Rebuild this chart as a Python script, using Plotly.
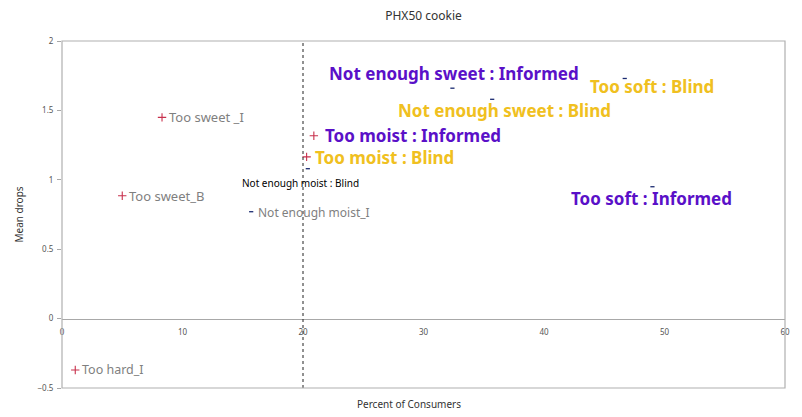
import plotly.graph_objects as go

# ---- data ----
labels = ["Too hard_I", "Too sweet _I", "Too sweet_B", "Not enough moist_I",
          "Not enough moist : Blind", "Too moist : Blind", "Too moist : Informed",
          "Not enough sweet : Informed", "Not enough sweet : Blind",
          "Too soft : Blind", "Too soft : Informed"]
pct_consumers = [1.1, 8.3, 5.0, 15.7, 20.4, 20.3, 20.9, 32.4, 35.7, 46.7, 49.0]
mean_drops = [-0.37, 1.45, 0.885, 0.77, 1.08, 1.165, 1.317, 1.66, 1.58, 1.73, 0.95]
marker_kind = ["plus", "plus", "plus", "dash", "dash", "plus", "plus",
               "dash", "dash", "dash", "dash"]
threshold_pct = 20
x_ticks = [0, 10, 20, 30, 40, 50, 60]
y_ticks = [-0.5, 0, 0.5, 1, 1.5, 2]

# ---- styles ----
PURPLE = "#5a10c8"
GOLD = "#f0c020"
GRAY = "#7f7f7f"
label_style = {
    "Too hard_I": dict(color=GRAY, size=12.5, bold=False, xa="left", xs=5, ys=0),
    "Too sweet _I": dict(color=GRAY, size=13, bold=False, xa="left", xs=5, ys=0),
    "Too sweet_B": dict(color=GRAY, size=13, bold=False, xa="left", xs=5, ys=0),
    "Not enough moist_I": dict(color=GRAY, size=12, bold=False, xa="left", xs=5, ys=-1),
    "Not enough moist : Blind": dict(color="#000000", size=10, bold=False, xa="center", xs=-7, ys=-14),
    "Too moist : Blind": dict(color=GOLD, size=17, bold=True, xa="left", xs=6, ys=-1),
    "Too moist : Informed": dict(color=PURPLE, size=17, bold=True, xa="left", xs=9, ys=0),
    "Not enough sweet : Informed": dict(color=PURPLE, size=17, bold=True, xa="center", xs=2, ys=15),
    "Not enough sweet : Blind": dict(color=GOLD, size=17, bold=True, xa="center", xs=12, ys=-11),
    "Too soft : Blind": dict(color=GOLD, size=17, bold=True, xa="center", xs=27, ys=-8),
    "Too soft : Informed": dict(color=PURPLE, size=17, bold=True, xa="center", xs=-1, ys=-12),
}

FONT = "Noto Sans"
fig = go.Figure()

px = [x for x, k in zip(pct_consumers, marker_kind) if k == "plus"]
py = [y for y, k in zip(mean_drops, marker_kind) if k == "plus"]
dx = [x for x, k in zip(pct_consumers, marker_kind) if k == "dash"]
dy = [y for y, k in zip(mean_drops, marker_kind) if k == "dash"]

fig.add_trace(go.Scatter(x=px, y=py, mode="markers", hoverinfo="skip",
                         marker=dict(symbol="cross-thin", size=6,
                                     line=dict(color="#c8304c", width=1.1))))
fig.add_trace(go.Scatter(x=dx, y=dy, mode="markers", hoverinfo="skip",
                         marker=dict(symbol="line-ew", size=3,
                                     line=dict(color="#1a2a70", width=1.3))))

for lab, x, y in zip(labels, pct_consumers, mean_drops):
    s = label_style[lab]
    txt = f"<b>{lab}</b>" if s["bold"] else lab
    fig.add_annotation(x=x, y=y, xref="x", yref="y", text=txt, showarrow=False,
                       xanchor=s["xa"], yanchor="middle", xshift=s["xs"], yshift=s["ys"],
                       font=dict(family=FONT, size=s["size"], color=s["color"]))

# dotted threshold line
fig.add_shape(type="line", xref="x", yref="paper", x0=threshold_pct, x1=threshold_pct,
              y0=0, y1=1, line=dict(color="#222222", width=1, dash="dot"))
# plot border
fig.add_shape(type="rect", xref="paper", yref="paper", x0=0, x1=1, y0=0, y1=1,
              line=dict(color="#b0b0b0", width=1.2))

fig.add_annotation(text="Percent of Consumers", xref="paper", yref="paper",
                   x=0.48, y=0, yshift=-16, showarrow=False, yanchor="middle",
                   font=dict(family=FONT, size=10, color="#333333"))

fig.update_layout(
    width=802, height=417,
    margin=dict(l=62, r=14, t=41, b=29),
    paper_bgcolor="white", plot_bgcolor="white",
    showlegend=False,
    title=dict(text="PHX50 cookie", x=0.5, xref="paper", xanchor="center",
               y=1 - 16 / 417, yanchor="middle", yref="container",
               font=dict(family=FONT, size=12, color="#333333")),
    xaxis=dict(range=[0, 60], tickvals=x_ticks, showgrid=False, zeroline=False,
               anchor="free", position=0.5 / 2.5, showline=True, linecolor="#a8a8a8",
               linewidth=1.2, ticks="", ticklen=0, ticklabelstandoff=6,
               tickfont=dict(family=FONT, size=8, color="#555555")),
    yaxis=dict(range=[-0.5, 2], tickvals=y_ticks, showgrid=False, zeroline=False,
               showline=False, ticks="outside", ticklen=4, tickcolor="#a8a8a8",
               ticklabelstandoff=2,
               tickfont=dict(family=FONT, size=8, color="#555555"),
               title=dict(text="Mean drops", standoff=12,
                          font=dict(family=FONT, size=10, color="#333333"))),
)

fig.write_html("out.html")
